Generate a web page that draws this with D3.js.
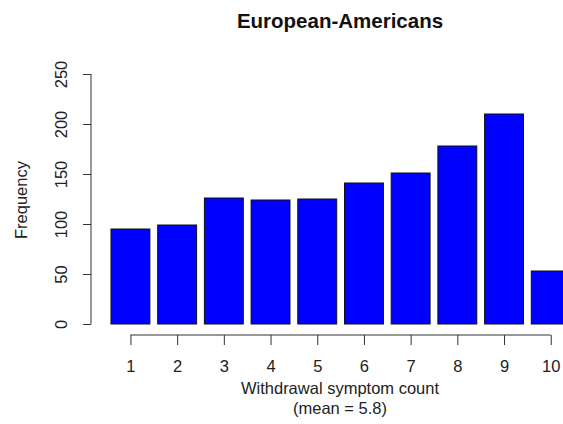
<!DOCTYPE html>
<html>
<head>
<meta charset="utf-8">
<script src="https://cdn.jsdelivr.net/npm/d3@7"></script>
<style>
  html, body { margin: 0; padding: 0; background: #fff; }
  svg { display: block; font-family: "Liberation Sans", Arial, sans-serif; }
</style>
</head>
<body>
<svg id="chart" width="563" height="424"></svg>
<script>
// Withdrawal symptom counts and their frequencies
const symptomCounts = [1, 2, 3, 4, 5, 6, 7, 8, 9, 10];
const frequencies = [95, 99, 126, 124, 125, 141, 151, 178, 210, 53];
const yTicks = [0, 50, 100, 150, 200, 250];
const chartTitle = "European-Americans";
const xTitle = "Withdrawal symptom count";
const xSubtitle = "(mean = 5.8)";
const yTitle = "Frequency";

const svg = d3.select("#chart");

// Bar layout in barplot units: each bar is 1 wide with a 0.2 gap before it
const barWidth = 1, barSpace = 0.2;
const x = d3.scaleLinear().domain([0, 1.2]).range([103.2, 103.2 + 46.7]);
const y = d3.scaleLinear().domain([0, 250]).range([324, 74]);

const barLeft = i => barSpace + i * (barWidth + barSpace);
const barMid = i => barLeft(i) + barWidth / 2;

// Bars
svg.append("g")
  .selectAll("rect")
  .data(frequencies)
  .join("rect")
  .attr("x", (d, i) => x(barLeft(i)))
  .attr("width", (d, i) => x(barLeft(i) + barWidth) - x(barLeft(i)))
  .attr("y", d => y(d))
  .attr("height", d => y(0) - y(d))
  .attr("fill", "#0000ff")
  .attr("stroke", "#111")
  .attr("stroke-width", 1);

// Y axis
const yAxis = d3.axisLeft(y).tickValues(yTicks).tickSize(8).tickPadding(0).tickSizeOuter(0);
const gy = svg.append("g").attr("transform", "translate(91,0)").call(yAxis);
gy.select(".domain").attr("stroke", "#333").attr("d", `M0,${y(0)}V${y(250)}`);
gy.selectAll(".tick line").attr("stroke", "#333");
gy.selectAll(".tick text")
  .attr("x", 0).attr("dy", null)
  .attr("transform", "translate(-30,0) rotate(-90)")
  .attr("text-anchor", "middle")
  .attr("dominant-baseline", "central")
  .attr("font-size", 16.5)
  .attr("fill", "#222");

// X axis with ticks at bar centres
const xAxis = d3.axisBottom(x)
  .tickValues(symptomCounts.map((c, i) => barMid(i)))
  .tickFormat((d, i) => symptomCounts[i])
  .tickSize(10).tickPadding(15).tickSizeOuter(0);
const gx = svg.append("g").attr("transform", "translate(0,335)").call(xAxis);
gx.select(".domain").attr("stroke", "#333")
  .attr("d", `M${x(barMid(0))},0H${x(barMid(symptomCounts.length - 1))}`);
gx.selectAll(".tick line").attr("stroke", "#333");
gx.selectAll(".tick text").attr("font-size", 16.5).attr("fill", "#222");

// Titles
svg.append("text")
  .attr("x", 340).attr("y", 28)
  .attr("text-anchor", "middle")
  .attr("font-size", 20.5).attr("font-weight", "bold").attr("fill", "#111")
  .text(chartTitle);

svg.append("text")
  .attr("x", 340).attr("y", 394)
  .attr("text-anchor", "middle")
  .attr("font-size", 16.5).attr("fill", "#222")
  .text(xTitle);

svg.append("text")
  .attr("x", 340).attr("y", 414)
  .attr("text-anchor", "middle")
  .attr("font-size", 16.5).attr("fill", "#222")
  .text(xSubtitle);

svg.append("text")
  .attr("transform", "translate(27,200) rotate(-90)")
  .attr("text-anchor", "middle")
  .attr("font-size", 16.5).attr("fill", "#222")
  .text(yTitle);
</script>
</body>
</html>
